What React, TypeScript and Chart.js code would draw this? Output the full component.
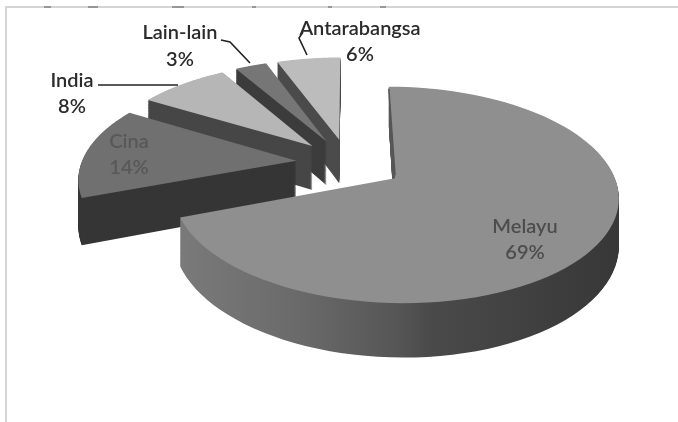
import React, { useEffect, useRef } from "react";
import { Chart, registerables } from "chart.js";

Chart.register(...registerables);

const categories = ["Melayu", "Cina", "India", "Lain-lain", "Antarabangsa"];
const shares = [69.3, 14.3, 8.0, 2.8, 5.6];
const explode = [224, 208, 208, 208, 208];
const topColors = ["#8f8f8f", "#707070", "#b6b6b6", "#767676", "#bcbcbc"];
const wallColors = ["#5a5a5a", "#363636", "#474747", "#3c3c3c", "#4b4b4b"];
const drawOrder = [4, 3, 2, 1, 0];

const SQUASH = 0.47;
const PERSP = 0.15;
const DEPTH = 45;
const RADIUS = 215;

const FONT = "Lato, 'Open Sans', sans-serif";
const labelSpots = [
  { x: 525, y1: 227, y2: 253, color: "#4d4d4d" },
  { x: 129, y1: 142, y2: 168, color: "#585858" },
  { x: 72, y1: 81, y2: 107, color: "#2b2b2b" },
  { x: 180, y1: 33, y2: 60, color: "#2b2b2b" },
  { x: 360, y1: 29, y2: 55, color: "#2b2b2b" },
];

const pie3d = {
  id: "pie3d",
  beforeDatasetDraw(chart: any) {
    const ctx: CanvasRenderingContext2D = chart.ctx;
    const arcs = chart.getDatasetMeta(0).data;

    ctx.save();
    // scanned frame
    ctx.strokeStyle = "#c8c8c8";
    ctx.lineWidth = 1.5;
    ctx.beginPath();
    ctx.moveTo(678, 7);
    ctx.lineTo(6, 7);
    ctx.lineTo(6, 422);
    ctx.stroke();
    ctx.strokeStyle = "#808080";
    for (const [a, b] of [[44, 51], [88, 98], [172, 184], [252, 256], [328, 332], [380, 386]]) {
      ctx.beginPath();
      ctx.moveTo(a, 7);
      ctx.lineTo(b, 7);
      ctx.stroke();
    }

    for (const i of drawOrder) {
      const arc = arcs[i];
      const { x, y, startAngle, endAngle, outerRadius } = arc.getProps(
        ["x", "y", "startAngle", "endAngle", "outerRadius"],
        true
      );
      const off = (arc.options.offset || 0) / 4;
      const mid = (startAngle + endAngle) / 2;
      const ou = Math.cos(mid) * off;
      const ov = Math.sin(mid) * off;
      const pts: [number, number][] = [[ou, ov]];
      const n = 90;
      for (let k = 0; k <= n; k++) {
        const a = startAngle + ((endAngle - startAngle) * k) / n;
        pts.push([ou + outerRadius * Math.cos(a), ov + outerRadius * Math.sin(a)]);
      }
      const project = (u: number, v: number, d: number) => {
        const s = 1 / (1 - (PERSP * v) / outerRadius);
        return [x + u * s, y + v * SQUASH * s + d * DEPTH * s];
      };
      const trace = (d: number) => {
        ctx.beginPath();
        pts.forEach(([u, v], idx) => {
          const [px, py] = project(u, v, d);
          if (idx === 0) ctx.moveTo(px, py);
          else ctx.lineTo(px, py);
        });
        ctx.closePath();
      };
      let wall: any = wallColors[i];
      if (i === 0) {
        const g = ctx.createLinearGradient(178, 0, 612, 0);
        g.addColorStop(0, "#7a7a7a");
        g.addColorStop(0.28, "#6a6a6a");
        g.addColorStop(0.51, "#555555");
        g.addColorStop(0.58, "#4a4a4a");
        g.addColorStop(1, "#383838");
        wall = g;
      }
      ctx.fillStyle = wall;
      const steps = Math.ceil(DEPTH * 1.3);
      for (let d = steps; d >= 1; d--) {
        trace(d / steps);
        ctx.fill();
      }
      trace(0);
      ctx.fillStyle = arc.options.backgroundColor;
      ctx.fill();
      if (i === 0) {
        const [ax, ay] = project(pts[0][0], pts[0][1], 0);
        const [bx, by] = project(pts[1][0], pts[1][1], 0);
        ctx.strokeStyle = "#555";
        ctx.lineWidth = 1.5;
        ctx.beginPath();
        ctx.moveTo(ax, ay - 3);
        ctx.lineTo(bx, by + 2);
        ctx.stroke();
      }
    }

    // leader lines
    ctx.strokeStyle = "#222";
    ctx.lineWidth = 1.6;
    const leaders = [
      [[98, 85], [178, 85]],
      [[221, 40], [230, 42], [250, 63]],
      [[303, 32], [299, 38], [307, 55]],
    ];
    for (const line of leaders) {
      ctx.beginPath();
      line.forEach(([a, b], idx) => (idx ? ctx.lineTo(a, b) : ctx.moveTo(a, b)));
      ctx.stroke();
    }

    // labels
    ctx.textAlign = "center";
    ctx.textBaseline = "middle";
    ctx.font = `600 20px ${FONT}`;
    categories.forEach((name, i) => {
      const p = labelSpots[i];
      ctx.fillStyle = p.color;
      ctx.fillText(name, p.x, p.y1);
      ctx.fillText(`${Math.round(shares[i])}%`, p.x, p.y2);
    });
    ctx.restore();
    return false;
  },
};

export default function App() {
  const ref = useRef<HTMLCanvasElement>(null);
  useEffect(() => {
    const chart = new Chart(ref.current as HTMLCanvasElement, {
      type: "pie",
      data: {
        labels: categories,
        datasets: [
          {
            data: shares,
            backgroundColor: topColors,
            borderWidth: 0,
            offset: explode,
            hoverOffset: 0,
          } as any,
        ],
      },
      options: {
        responsive: false,
        animation: false,
        radius: RADIUS,
        layout: { padding: { left: 18, bottom: 96 } },
        plugins: { legend: { display: false }, tooltip: { enabled: false } },
      } as any,
      plugins: [pie3d as any],
    });
    return () => chart.destroy();
  }, []);
  return (
    <div style={{ position: "fixed", left: 0, top: 0, width: 678, height: 422, background: "#fff" }}>
      <canvas ref={ref} width={678} height={422} style={{ display: "block", filter: "blur(0.6px)" }} />
    </div>
  );
}
